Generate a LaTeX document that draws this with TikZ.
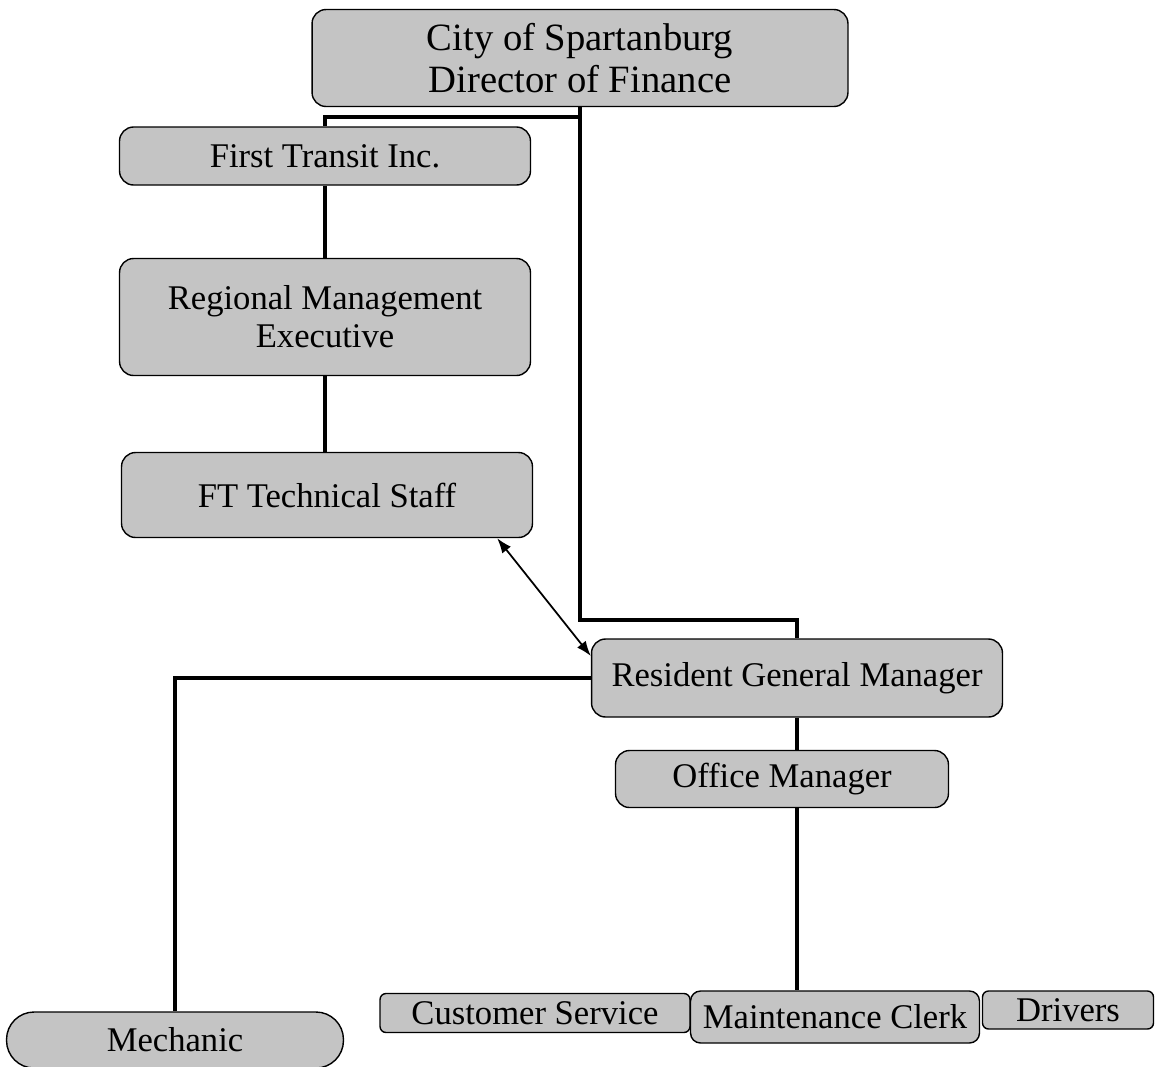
\documentclass[tikz,border=0pt]{standalone}
\usepackage{fontspec}
\setmainfont{Liberation Serif}
\usetikzlibrary{arrows.meta}
\definecolor{boxgray}{RGB}{196,196,196}
\begin{document}
\begin{tikzpicture}[x=0.02cm,y=-0.02cm]
\path[use as bounding box] (0,0) rectangle (1156,1066);

\tikzstyle{every node}+=[draw,fill=boxgray,rounded corners=0.28cm,line width=0.8pt,inner sep=0pt,align=center,font=\fontsize{19.7}{21.6}\selectfont]
\tikzstyle{every path}+=[line width=2.3pt]

\node[minimum width=10.72cm,minimum height=1.94cm,font=\fontsize{22}{24}\selectfont] (city) at (580,58) {City of Spartanburg\\Director of Finance};
\node[minimum width=8.22cm,minimum height=1.16cm] (fti) at (325,156) {First Transit Inc.};
\node[minimum width=8.22cm,minimum height=2.34cm] (rme) at (325,317) {Regional Management\\Executive};
\node[minimum width=8.22cm,minimum height=1.7cm] (fts) at (327,495) {FT Technical Staff};
\node[minimum width=8.22cm,minimum height=1.56cm] (rgm) at (797,678) {Resident General Manager};
\node[minimum width=6.66cm,minimum height=1.14cm] (om) at (782,779) {Office Manager};
\node[minimum width=6.74cm,minimum height=1.12cm,rounded corners=0.55cm] (mech) at (175,1040) {Mechanic};
\node[minimum width=6.2cm,minimum height=0.78cm,rounded corners=0.12cm] (cs) at (535,1013) {Customer Service};
\node[minimum width=5.78cm,minimum height=1.04cm,rounded corners=0.2cm] (mc) at (835,1017) {Maintenance Clerk};
\node[minimum width=3.42cm,minimum height=0.76cm,rounded corners=0.12cm] (drv) at (1068,1010) {Drivers};

\coordinate (j1) at (580,117);
\coordinate (j2) at (797,620);

% main line
\draw (city.south) |- (j2) -- (rgm.north);
\draw (j1) -| (fti.north);
\draw (fti.south) -- (rme.north);
\draw (rme.south) -- (rme.south |- fts.north);
\draw[{Latex[length=0.3cm,width=0.22cm]}-{Latex[length=0.3cm,width=0.22cm]},line width=1pt] ([xshift=-0.72cm]fts.south east) -- ([yshift=0.44cm]rgm.west);

% under the manager
\draw (rgm.west) -| (mech.north);
\draw (rgm.south) -- (rgm.south |- om.north);
\draw (rgm.south |- om.south) -- (rgm.south |- mc.north);
\end{tikzpicture}
\end{document}
